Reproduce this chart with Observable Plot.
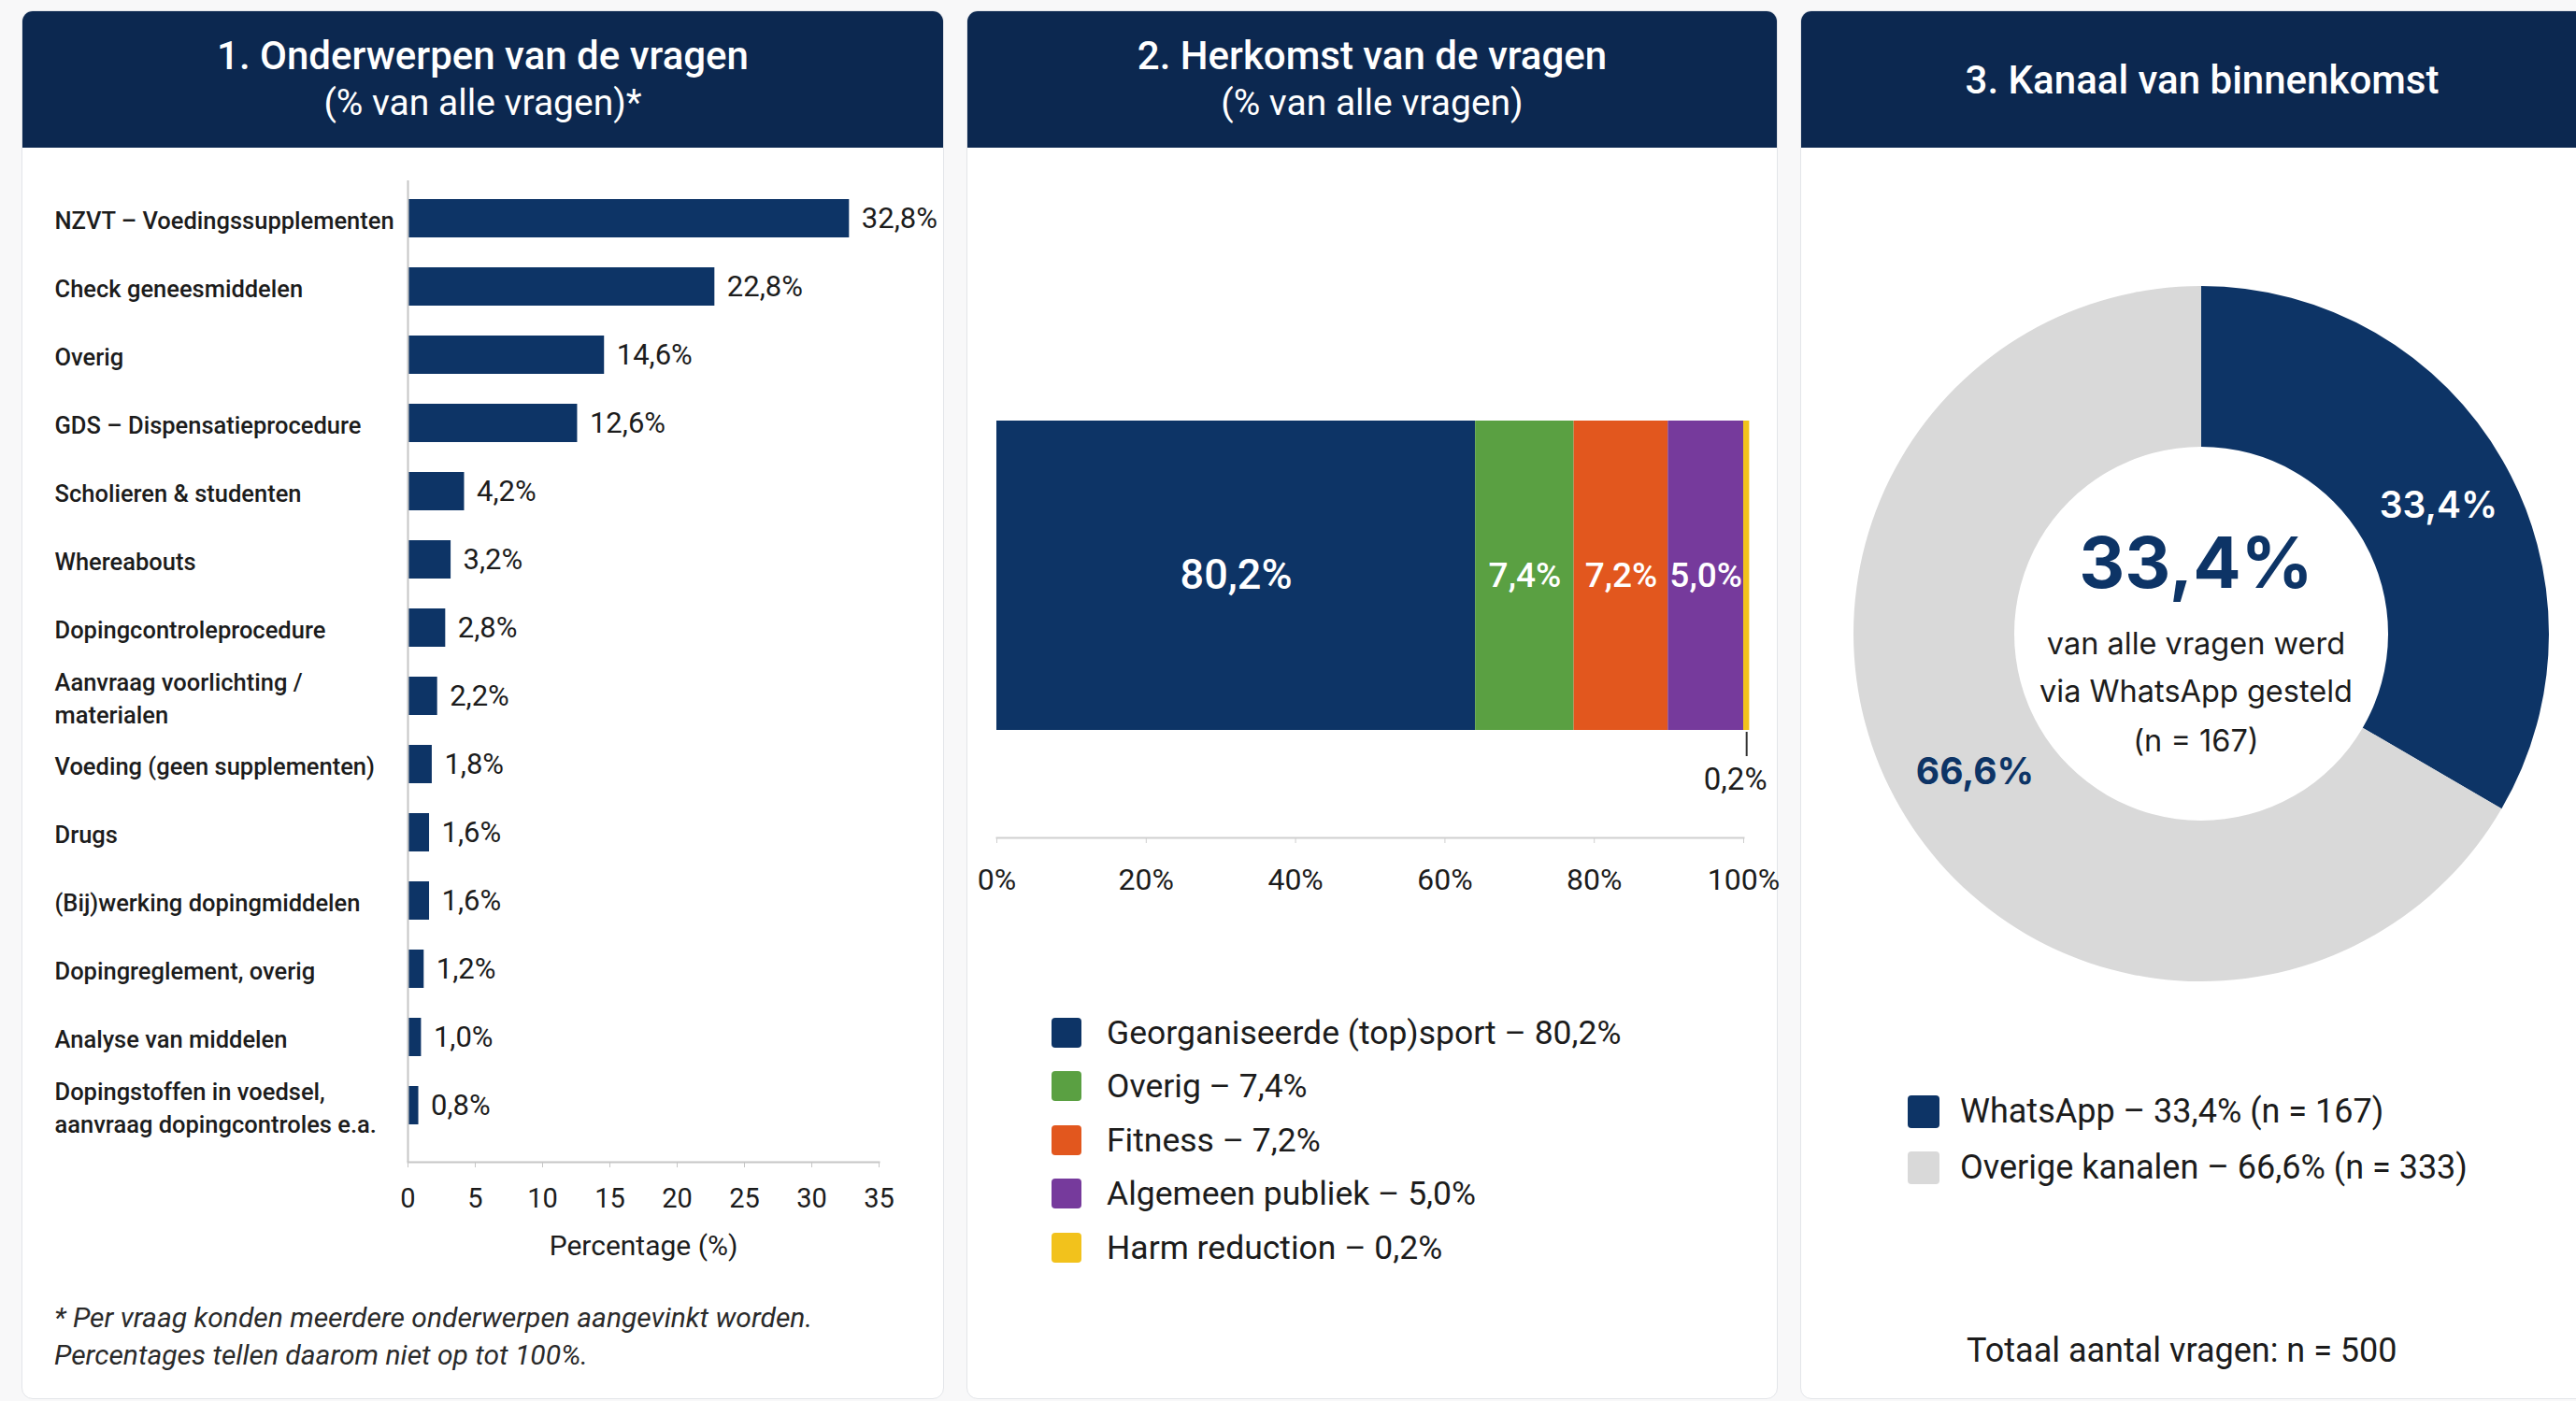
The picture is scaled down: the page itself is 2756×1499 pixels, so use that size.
<!DOCTYPE html>
<html>
<head>
<meta charset="utf-8">
<script src="https://cdn.jsdelivr.net/npm/d3@7"></script>
<script src="https://cdn.jsdelivr.net/npm/@observablehq/plot@0.6"></script>
<style>
html, body { margin: 0; padding: 0; width: 2756px; height: 1499px; overflow: hidden; background: #f8f8f9; font-family: Roboto, "Noto Sans", sans-serif; color: #1c1c1c; }
.card { position: absolute; top: 11px; height: 1486px; background: #fff; border: 1.5px solid #e3e5e9; border-radius: 12px; box-sizing: border-box; overflow: hidden; }
.hdr { position: absolute; left: 0; right: 0; top: 0; height: 146px; background: #0c2850; color: #fff; display: flex; flex-direction: column; justify-content: center; align-items: center; text-align: center; }
.hdr .t1 { font-size: 42px; font-weight: 500; line-height: 51px; }
.hdr .t2 { font-size: 39px; font-weight: 400; line-height: 51px; }
.plot { position: absolute; }
.legend { position: absolute; }
.legend .row { display: flex; align-items: center; }
.legend .sw { border-radius: 4px; flex: none; }
.note { position: absolute; left: 58px; top: 1390px; font-size: 30px; font-style: italic; line-height: 40px; color: #2a2a2a; }
.total { position: absolute; left: 2104px; top: 1424px; font-size: 36px; color: #1c1c1c; }
</style>
</head>
<body>
<div class="card" style="left:23px;width:987px;"><div class="hdr"><div class="t1">1. Onderwerpen van de vragen</div><div class="t2">(% van alle vragen)*</div></div></div>
<div class="card" style="left:1034px;width:868px;"><div class="hdr"><div class="t1">2. Herkomst van de vragen</div><div class="t2">(% van alle vragen)</div></div></div>
<div class="card" style="left:1926px;width:860px;"><div class="hdr"><div class="t1">3. Kanaal van binnenkomst</div></div></div>

<div id="p1" class="plot" style="left:23px;top:157px;"></div>
<div id="p2" class="plot" style="left:1034px;top:157px;"></div>
<div id="p3" class="plot" style="left:1926px;top:157px;"></div>
<div id="leg2" class="legend" style="left:1125px;top:1076px;"></div>
<div id="leg3" class="legend" style="left:2041px;top:1159px;"></div>
<div class="note">* Per vraag konden meerdere onderwerpen aangevinkt worden.<br>Percentages tellen daarom niet op tot 100%.</div>
<div id="total" class="total"></div>

<script>
// ---------- Data ----------
// 1. Onderwerpen van de vragen
const topics = [
  "NZVT – Voedingssupplementen",
  "Check geneesmiddelen",
  "Overig",
  "GDS – Dispensatieprocedure",
  "Scholieren & studenten",
  "Whereabouts",
  "Dopingcontroleprocedure",
  "Aanvraag voorlichting /\nmaterialen",
  "Voeding (geen supplementen)",
  "Drugs",
  "(Bij)werking dopingmiddelen",
  "Dopingreglement, overig",
  "Analyse van middelen",
  "Dopingstoffen in voedsel,\naanvraag dopingcontroles e.a."
];
const topicPct = [32.8, 22.8, 14.6, 12.6, 4.2, 3.2, 2.8, 2.2, 1.8, 1.6, 1.6, 1.2, 1.0, 0.8];
const topicTicks = [0, 5, 10, 15, 20, 25, 30, 35];

// 2. Herkomst van de vragen
const origins = ["Georganiseerde (top)sport", "Overig", "Fitness", "Algemeen publiek", "Harm reduction"];
const originPct = [80.2, 7.4, 7.2, 5.0, 0.2];
// segment widths as drawn in the reference bar, read against its 0–100% axis
const originDrawn = [64.1, 13.2, 12.6, 10.1, 0.8];
const originTicks = [0, 20, 40, 60, 80, 100];
const originColors = ["#0d3466", "#5aa042", "#e2571e", "#763a9c", "#f2c21c"];

// 3. Kanaal van binnenkomst
const channels = ["WhatsApp", "Overige kanalen"];
const channelPct = [33.4, 66.6];
const channelN = [167, 333];
const channelColors = ["#0d3466", "#d9d9d9"];
const totalN = 500;

const navy = "#0d3466";
const fmt = v => v.toFixed(1).replace(".", ",") + "%";

// ---------- Panel 1 ----------
const data1 = topics.map((t, i) => ({topic: t, pct: topicPct[i]}));
const p1 = Plot.plot({
  width: 987, height: 1230,
  marginLeft: 413, marginRight: 70, marginTop: 16, marginBottom: 144,
  style: {fontFamily: "Roboto, sans-serif", fontSize: "26px", color: "#1c1c1c", background: "transparent", overflow: "visible"},
  x: {domain: [0, 35]},
  y: {domain: topics, paddingInner: 0.44, paddingOuter: 0.5},
  marks: [
    Plot.barX(data1, {x: "pct", y: "topic", fill: navy}),
    Plot.ruleX([0], {stroke: "#c6c6c6", strokeWidth: 2, insetTop: 20}),
    Plot.frame({anchor: "bottom", stroke: "#c6c6c6", strokeWidth: 2}),
    Plot.text(data1, {x: "pct", y: "topic", text: d => fmt(d.pct), dx: 13, textAnchor: "start", fontSize: 31, fill: "#1c1c1c"}),
    Plot.axisY({tickSize: 0, tickPadding: 0, textAnchor: "start", dx: -378, fontSize: 25.5, fontWeight: 500, lineHeight: 1.4, label: null}),
    Plot.axisX(topicTicks, {tickSize: 6, tickPadding: 22, stroke: "#c6c6c6", fontSize: 29, label: null}),
    Plot.text(["Percentage (%)"], {frameAnchor: "bottom", dy: 99, text: d => d, fontSize: 30, fill: "#1c1c1c"})
  ]
});
document.getElementById("p1").append(p1);

// ---------- Panel 2 ----------
const data2 = origins.map((o, i) => ({origin: o, pct: originPct[i], drawn: originDrawn[i], grp: "alle"}));
const p2 = Plot.plot({
  width: 868, height: 850,
  marginLeft: 32, marginRight: 37, marginTop: 0, marginBottom: 111,
  style: {fontFamily: "Roboto, sans-serif", fontSize: "27px", color: "#1c1c1c", background: "transparent", overflow: "visible"},
  x: {domain: [0, 100]},
  y: {domain: ["alle"], range: [293, 624], paddingInner: 0, paddingOuter: 0, axis: null},
  color: {domain: origins, range: originColors},
  marks: [
    Plot.frame({anchor: "bottom", stroke: "#cfcfcf", strokeWidth: 2}),
    Plot.barX(data2, Plot.stackX({x: "drawn", y: "grp", fill: "origin"})),
    Plot.text(data2, Plot.stackX({x: "drawn", y: "grp", text: (d, i) => i === 0 ? fmt(d.pct) : null, fill: "white", fontSize: 45, fontWeight: 500})),
    Plot.text(data2, Plot.stackX({x: "drawn", y: "grp", text: (d, i) => i > 0 && d.drawn > 3 ? fmt(d.pct) : null, fill: "white", fontSize: 37, fontWeight: 500})),
    Plot.tickX(data2, Plot.stackX({x: "drawn", y: "grp", stroke: d => d.drawn <= 3 ? "#333" : "none", strokeWidth: 2, insetTop: 333, insetBottom: -28})),
    Plot.text(data2, Plot.stackX({x: "drawn", y: "grp", text: d => d.drawn <= 3 ? fmt(d.pct) : null, dy: 218, dx: -12, fontSize: 33, fill: "#1c1c1c"})),
    Plot.axisX(originTicks, {tickFormat: d => d + "%", tickSize: 6, tickPadding: 27, stroke: "#cfcfcf", fontSize: 32, label: null})
  ]
});
document.getElementById("p2").append(p2);

const leg2 = document.getElementById("leg2");
origins.forEach((o, i) => {
  const row = document.createElement("div");
  row.className = "row";
  row.style.height = "57.5px";
  row.innerHTML = `<div class="sw" style="width:32px;height:32px;background:${originColors[i]}"></div><div style="margin-left:27px;font-size:35.5px;">${o} – ${fmt(originPct[i])}</div>`;
  leg2.append(row);
});

// ---------- Panel 3 ----------
const data3 = channels.map((c, i) => ({channel: c, pct: channelPct[i], n: channelN[i]}));
const donut = (index, scales, values, dims) => {
  const cx = dims.marginLeft + (dims.width - dims.marginLeft - dims.marginRight) / 2;
  const cy = dims.marginTop + (dims.height - dims.marginTop - dims.marginBottom) / 2;
  const g = d3.create("svg:g").attr("transform", `translate(${cx},${cy})`);
  const arcs = d3.pie().sort(null).value(d => d.pct)(data3);
  const arc = d3.arc().innerRadius(200).outerRadius(372);
  g.selectAll("path").data(arcs).join("path")
    .attr("d", arc)
    .attr("fill", (d, i) => channelColors[i]);
  g.selectAll("text").data(arcs).join("text")
    .attr("transform", d => { const [x, y] = arc.centroid(d); return `translate(${x + 6},${y + 5})`; })
    .attr("text-anchor", "middle")
    .attr("dy", "0.35em")
    .attr("font-family", "Inter, sans-serif")
    .attr("font-size", 39)
    .attr("font-weight", (d, i) => i === 0 ? 600 : 700)
    .attr("fill", (d, i) => i === 0 ? "white" : navy)
    .text(d => fmt(d.data.pct));
  return g.node();
};
const centerLines = [
  {t: fmt(channelPct[0]), dy: -74, size: 76, weight: 700, fill: navy},
  {t: "van alle vragen werd", dy: 11, size: 32.5, weight: 400, fill: "#1c1c1c"},
  {t: "via WhatsApp gesteld", dy: 62, size: 32.5, weight: 400, fill: "#1c1c1c"},
  {t: `(n = ${channelN[0]})`, dy: 115, size: 32.5, weight: 400, fill: "#1c1c1c"}
];
const p3 = Plot.plot({
  width: 830, height: 900,
  marginLeft: 28, marginRight: 0, marginTop: 142, marginBottom: 0,
  style: {fontFamily: "Inter, sans-serif", fontSize: "31px", color: "#1c1c1c", background: "transparent", overflow: "visible"},
  marks: [
    donut,
    ...centerLines.map(l => Plot.text([l.t], {text: d => d, frameAnchor: "middle", dx: -6, dy: l.dy, fontSize: l.size, fontWeight: l.weight, fill: l.fill}))
  ]
});
document.getElementById("p3").append(p3);

const leg3 = document.getElementById("leg3");
channels.forEach((c, i) => {
  const row = document.createElement("div");
  row.className = "row";
  row.style.height = "60px";
  row.innerHTML = `<div class="sw" style="width:34px;height:35px;background:${channelColors[i]}"></div><div style="margin-left:22px;font-size:36px;">${c} – ${fmt(channelPct[i])} (n = ${channelN[i]})</div>`;
  leg3.append(row);
});
document.getElementById("total").textContent = `Totaal aantal vragen: n = ${totalN}`;
</script>
</body>
</html>
